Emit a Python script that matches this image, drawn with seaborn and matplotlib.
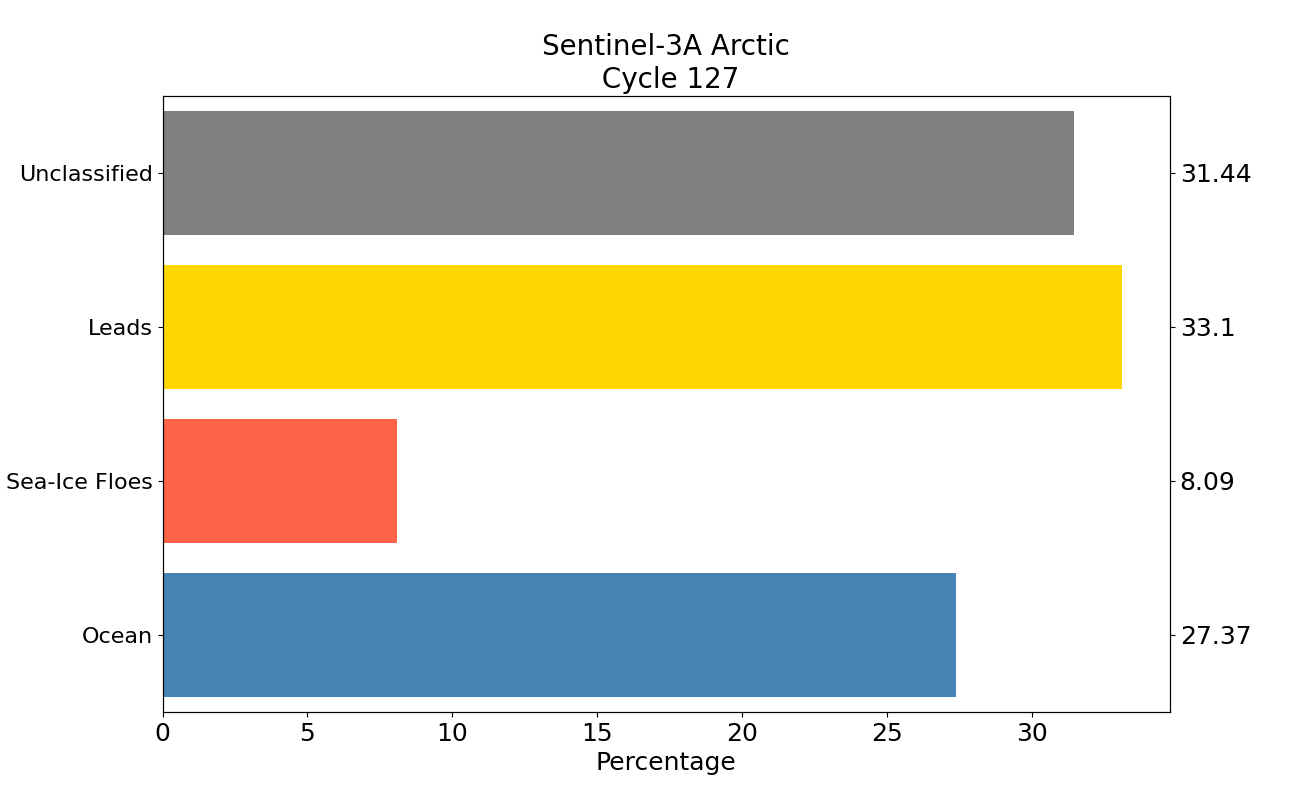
import pandas as pd
import seaborn as sns
import matplotlib.pyplot as plt

classes = ["Unclassified", "Leads", "Sea-Ice Floes", "Ocean"]
percent = [31.44, 33.1, 8.09, 27.37]
colours = ["grey", "gold", "tomato", "steelblue"]

df = pd.DataFrame({"cls": classes, "pct": percent})

fig, ax = plt.subplots(figsize=(13, 8), dpi=100)
sns.barplot(data=df, x="pct", y="cls", hue="cls", palette=colours,
            order=classes, width=0.8, saturation=1, legend=False, ax=ax)
ax.set_ylabel("")
ax.set_xlabel("Percentage", fontsize=18)
ax.tick_params(axis="both", labelsize=16)
ax.tick_params(axis="x", labelsize=18)
ax.set_title("Sentinel-3A Arctic\n Cycle 127", fontsize=20)

# right side labels, evenly spaced like a twin axis
ax2 = ax.twinx()
ax2.set_ylim(0, 1)
ax2.set_yticks([0.125, 0.375, 0.625, 0.875])
ax2.set_yticklabels([str(v) for v in percent[::-1]], fontsize=18)

plt.savefig("out.png")
